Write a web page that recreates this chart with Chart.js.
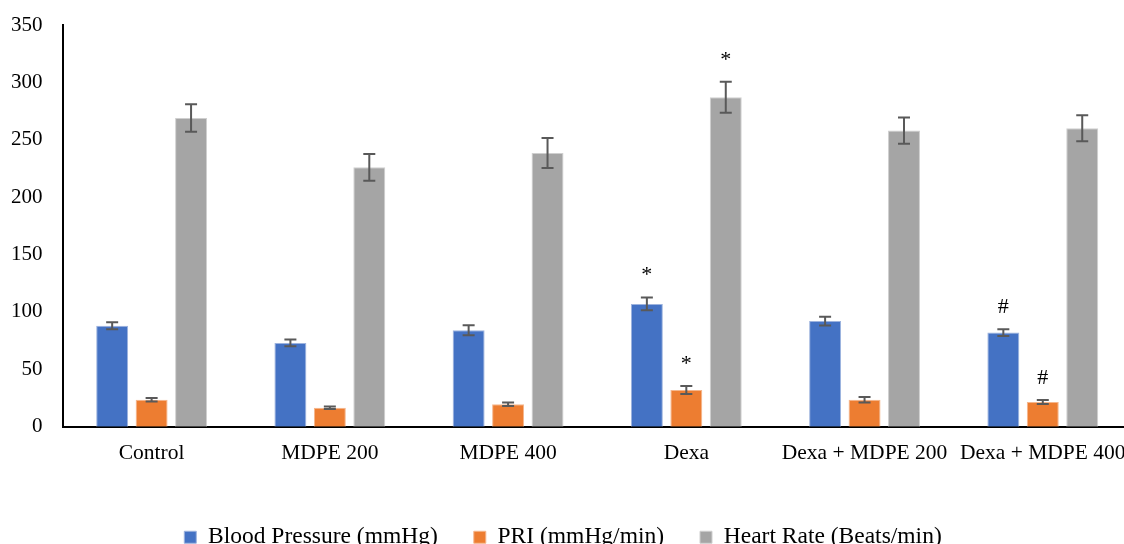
<html lang="en">

<head>
    <meta charset="UTF-8">
    <title>Blood Pressure, PRI and Heart Rate</title>
    <script src="https://cdn.jsdelivr.net/npm/chart.js"></script>
    <style>
        body {
            margin: 0;
            background-color: #ffffff;
            overflow: hidden;
        }

        #wrap {
            width: 1140px;
            height: 544px;
        }
    </style>
</head>

<body>
    <div id="wrap">
        <canvas id="myChart"></canvas>
    </div>

    <script>
        const labels = ['Control', 'MDPE 200', 'MDPE 400', 'Dexa', 'Dexa + MDPE 200', 'Dexa + MDPE 400'];

        const bloodPressure = [88, 73, 84, 107, 92, 82];
        const bloodPressureErr = [3, 3, 4.3, 5.5, 3.9, 3];
        const bloodPressureMark = ['', '', '', '*', '', '#'];

        const pri = [23.5, 16.5, 19.5, 32, 23.5, 21.5];
        const priErr = [1.5, 1, 1.5, 3.5, 2.4, 1.8];
        const priMark = ['', '', '', '*', '', '#'];

        const heartRate = [269, 226, 238.5, 287, 258, 260];
        const heartRateErr = [12, 11.6, 13, 13.5, 11.4, 11.3];
        const heartRateMark = ['', '', '', '*', '', ''];

        const yTicks = [0, 50, 100, 150, 200, 250, 300, 350];

        const serif = "'Liberation Serif', 'Times New Roman', serif";

        // error bars + significance marks drawn on top of the bars
        const errorBars = {
            id: 'errorBars',
            afterDatasetsDraw(chart) {
                const ctx = chart.ctx;
                const y = chart.scales.y;
                chart.data.datasets.forEach((ds, i) => {
                    const meta = chart.getDatasetMeta(i);
                    meta.data.forEach((bar, j) => {
                        const v = ds.data[j];
                        const e = ds.errors[j];
                        const top = y.getPixelForValue(v + e);
                        const bot = y.getPixelForValue(v - e);
                        ctx.save();
                        ctx.strokeStyle = '#595959';
                        ctx.lineWidth = 2;
                        ctx.beginPath();
                        ctx.moveTo(bar.x, top);
                        ctx.lineTo(bar.x, bot);
                        ctx.moveTo(bar.x - 6, top);
                        ctx.lineTo(bar.x + 6, top);
                        ctx.moveTo(bar.x - 6, bot);
                        ctx.lineTo(bar.x + 6, bot);
                        ctx.stroke();
                        if (ds.marks[j]) {
                            ctx.fillStyle = '#000000';
                            ctx.font = '22px ' + serif;
                            ctx.textAlign = 'center';
                            ctx.textBaseline = 'middle';
                            ctx.fillText(ds.marks[j], bar.x, top - 22);
                        }
                        ctx.restore();
                    });
                });
            }
        };

        const data = {
            labels: labels,
            datasets: [{
                label: 'Blood Pressure (mmHg)',
                data: bloodPressure,
                errors: bloodPressureErr,
                marks: bloodPressureMark,
                backgroundColor: '#4472C4',
                borderColor: '#9db3de',
                borderWidth: 1
            },
            {
                label: 'PRI (mmHg/min)',
                data: pri,
                errors: priErr,
                marks: priMark,
                backgroundColor: '#ED7D31',
                borderColor: '#f5b68c',
                borderWidth: 1
            },
            {
                label: 'Heart Rate (Beats/min)',
                data: heartRate,
                errors: heartRateErr,
                marks: heartRateMark,
                backgroundColor: '#A5A5A5',
                borderColor: '#cfcfcf',
                borderWidth: 1
            }]
        };

        const config = {
            type: 'bar',
            data: data,
            plugins: [errorBars],
            options: {
                responsive: true,
                maintainAspectRatio: false,
                animation: false,
                categoryPercentage: 0.664,
                barPercentage: 0.81,
                layout: {
                    padding: { left: -9, right: 5, top: 0, bottom: -15 }
                },
                plugins: {
                    legend: {
                        position: 'bottom',
                        labels: {
                            color: '#000000',
                            font: { family: serif, size: 23.5 },
                            boxWidth: 12,
                            boxHeight: 12,
                            padding: 36
                        }
                    },
                    tooltip: { enabled: false }
                },
                scales: {
                    x: {
                        grid: { display: false, drawTicks: false },
                        border: { color: '#000000', width: 2 },
                        ticks: {
                            color: '#000000',
                            font: { family: serif, size: 21.5 },
                            padding: 14,
                            maxRotation: 0,
                            autoSkip: false
                        },
                        afterFit: (s) => { s.height += 9; }
                    },
                    y: {
                        min: 0,
                        max: 350,
                        grid: { display: false, drawTicks: false },
                        border: { color: '#000000', width: 2 },
                        afterBuildTicks: (s) => { s.ticks = yTicks.map(v => ({ value: v })); },
                        afterFit: (s) => { s.paddingTop = 25; s.paddingBottom = 0; },
                        ticks: {
                            color: '#000000',
                            font: { family: serif, size: 21 },
                            padding: 20
                        }
                    }
                }
            }
        };

        var myChart = new Chart(
            document.getElementById('myChart'),
            config
        );
    </script>
</body>

</html>
